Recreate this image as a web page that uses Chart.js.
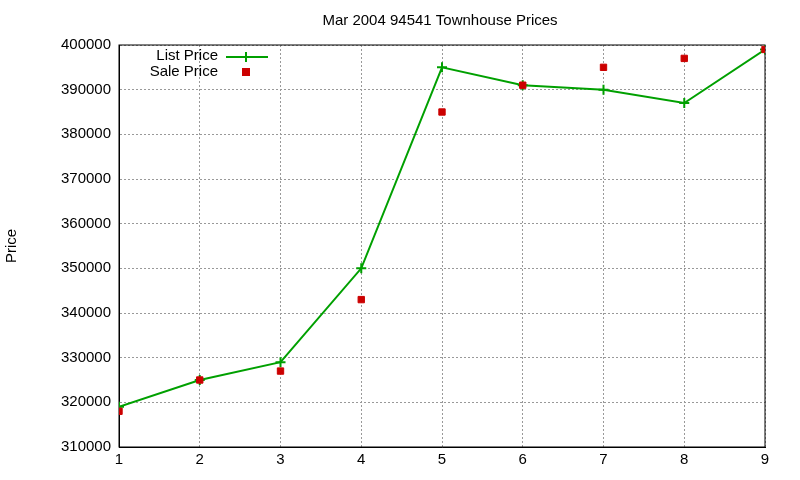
<!DOCTYPE html>
<html>
<head>
<script src="https://cdn.jsdelivr.net/npm/chart.js@4"></script>
<style>body{margin:0;background:#fff}#wrap{width:800px;height:480px}</style>
</head>
<body>
<div id="wrap"><canvas id="chart"></canvas></div>
<script>
const months = [1, 2, 3, 4, 5, 6, 7, 8, 9];
const listPrice = [319000, 325000, 329000, 350000, 395000, 391000, 390000, 387000, 399000];
const salePrice = [318000, 325000, 327000, 343000, 385000, 391000, 395000, 397000, 399000];

const FONT = "'Liberation Sans', Arial, sans-serif";
const GREEN = "#00a000";
const RED = "#cc0000";

// gnuplot-like title, y label, legend
const decor = {
  id: "decor",
  afterDraw(chart) {
    const c = chart.ctx, a = chart.chartArea;
    c.save();
    c.fillStyle = "#000";
    c.font = "15px " + FONT;
    c.textAlign = "center";
    c.textBaseline = "middle";
    c.fillText("Mar 2004 94541 Townhouse Prices", (a.left + a.right) / 2 - 2, 21);
    c.translate(12, (a.top + a.bottom) / 2);
    c.rotate(-Math.PI / 2);
    c.fillText("Price", 0, 0);
    c.restore();

    c.save();
    c.font = "15px " + FONT;
    c.textAlign = "right";
    c.textBaseline = "middle";
    c.fillStyle = "#000";
    c.fillText("List Price", 218, 56);
    c.fillText("Sale Price", 218, 72);
    c.strokeStyle = GREEN;
    c.lineWidth = 2;
    c.beginPath(); c.moveTo(226, 57); c.lineTo(268, 57);
    c.moveTo(246, 52); c.lineTo(246, 62); c.stroke();
    c.fillStyle = RED;
    c.fillRect(242, 68, 8, 8);
    c.restore();
  }
};

new Chart(document.getElementById("chart"), {
  type: "scatter",
  data: {
    datasets: [
      {
        label: "List Price",
        order: 1,
        data: months.map((m, i) => ({ x: m, y: listPrice[i] })),
        showLine: true,
        borderColor: GREEN,
        borderWidth: 2,
        pointStyle: "cross",
        pointRadius: 5,
        pointBorderWidth: 2,
        pointBorderColor: GREEN
      },
      {
        label: "Sale Price",
        order: 0,
        data: months.map((m, i) => ({ x: m, y: salePrice[i] })),
        pointStyle: "rect",
        pointRadius: 4.5,
        backgroundColor: RED,
        borderColor: RED
      }
    ]
  },
  options: {
    responsive: true,
    maintainAspectRatio: false,
    animation: false,
    layout: { padding: { top: 45, right: 35, left: 0, bottom: 0 } },
    plugins: { legend: { display: false }, tooltip: { enabled: false } },
    scales: {
      x: {
        type: "linear", min: 1, max: 9,
        ticks: { stepSize: 1, color: "#000", font: { family: FONT, size: 15 }, padding: 4 },
        grid: { color: "#999", drawTicks: false },
        border: { display: true, color: "#000", dash: [2, 2] },
        afterFit(s) { s.height = 33; }
      },
      y: {
        min: 310000, max: 400000,
        ticks: { stepSize: 10000, color: "#000", font: { family: FONT, size: 15 }, padding: 8,
          callback: v => String(v) },
        grid: { color: "#999", drawTicks: false },
        border: { display: true, color: "#000", dash: [2, 2] },
        afterFit(s) { s.width = 119; }
      }
    }
  },
  plugins: [decor, {
    id: "frame",
    beforeDatasetsDraw(chart) {
      const c = chart.ctx, a = chart.chartArea;
      c.save();
      c.strokeStyle = "#000"; c.lineWidth = 1;
      c.strokeRect(a.left, a.top, a.right - a.left, a.bottom - a.top);
      c.restore();
    }
  }]
});
</script>
</body>
</html>
